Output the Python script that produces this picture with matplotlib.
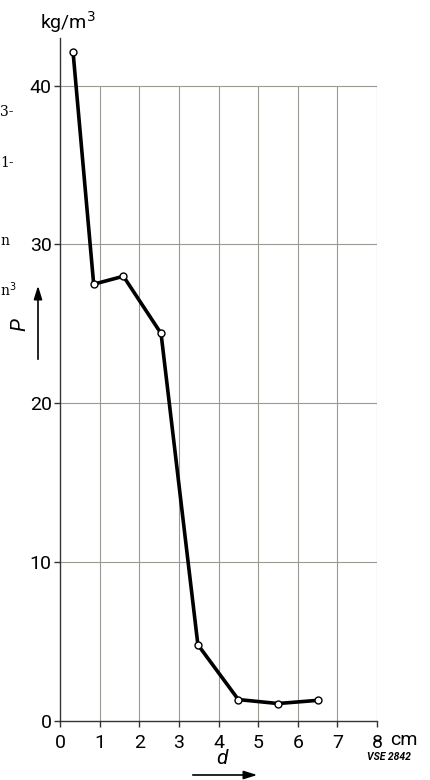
import matplotlib.pyplot as plt

# thickness d (cm) and density P (kg/m3)
dd = [0.33, 0.85, 1.6, 2.55, 3.48, 4.5, 5.5, 6.5]
pp = [42.1, 27.5, 28.0, 24.4, 4.8, 1.35, 1.1, 1.3]
xticks = [0, 1, 2, 3, 4, 5, 6, 7, 8]
xlabels = ["0", "1", "2", "3", "4", "5", "6", "7", "8"]
yticks = [0, 10, 20, 30, 40]

plt.rcParams['font.family'] = ['Roboto', 'DejaVu Sans']

fig = plt.figure(figsize=(4.3, 7.8), dpi=100)
ax = fig.add_axes([60/430, 1-721/780, 317/430, (721-38)/780])
ax.set_xlim(0, 8)
ax.set_ylim(0, 43)

# grid only inside 0..8 x 0..40
grid_c = "#9a9a92"
ax.vlines(xticks[1:], 0, 40, color=grid_c, lw=0.8)
ax.hlines(yticks[1:], 0, 8, color=grid_c, lw=0.8)

ax.plot(dd, pp, color="black", lw=2.6, marker="o", ms=5,
        mfc="white", mec="black", mew=1.0, zorder=5)

for s in ["top", "right"]:
    ax.spines[s].set_visible(False)
ax.spines["left"].set_color("#333333")
ax.spines["bottom"].set_color("#333333")
ax.spines["left"].set_linewidth(1.0)
ax.spines["bottom"].set_linewidth(1.0)
ax.spines["left"].set_clip_on(False)

ax.set_xticks(xticks)
ax.set_xticklabels(xlabels)
ax.set_yticks(yticks)
ax.tick_params(axis="both", labelsize=14, length=4, width=1.0, color="#333333", pad=2)
ax.tick_params(axis="x", pad=5)

fig.text(40/430, 1-22/780, "kg/m$^3$", fontsize=14, va="center", ha="left")
fig.text(404/430, 1-740/780, "cm", fontsize=14, va="center", ha="center")
fig.text(389/430, 1-757/780, "VSE 2842", fontsize=7.5, style="italic",
         weight="bold", va="center", ha="center")

# axis names with arrows
fig.text(222/430, 1-759/780, "d", fontsize=15, style="italic", va="center", ha="center")
ax.annotate("", xy=(260/430, 1-775/780), xytext=(190/430, 1-775/780),
            xycoords="figure fraction",
            arrowprops=dict(arrowstyle="-|>,head_length=0.8,head_width=0.25", color="black", lw=1.2))
fig.text(20/430, 1-325/780, "P", fontsize=15, style="italic", rotation=90,
         va="center", ha="center")
ax.annotate("", xy=(38/430, 1-283/780), xytext=(38/430, 1-362/780),
            xycoords="figure fraction",
            arrowprops=dict(arrowstyle="-|>,head_length=0.8,head_width=0.25", color="black", lw=1.2))

# cut off text from the page edge
for tx, ty, tt in [(0, 112, "3-"), (0, 163, "1-"), (0, 241, "n"), (0, 290, "n$^3$")]:
    fig.text(tx/430, 1-ty/780, tt, fontsize=10, family="DejaVu Serif", va="center", ha="left")

plt.savefig("out.png", dpi=100)
